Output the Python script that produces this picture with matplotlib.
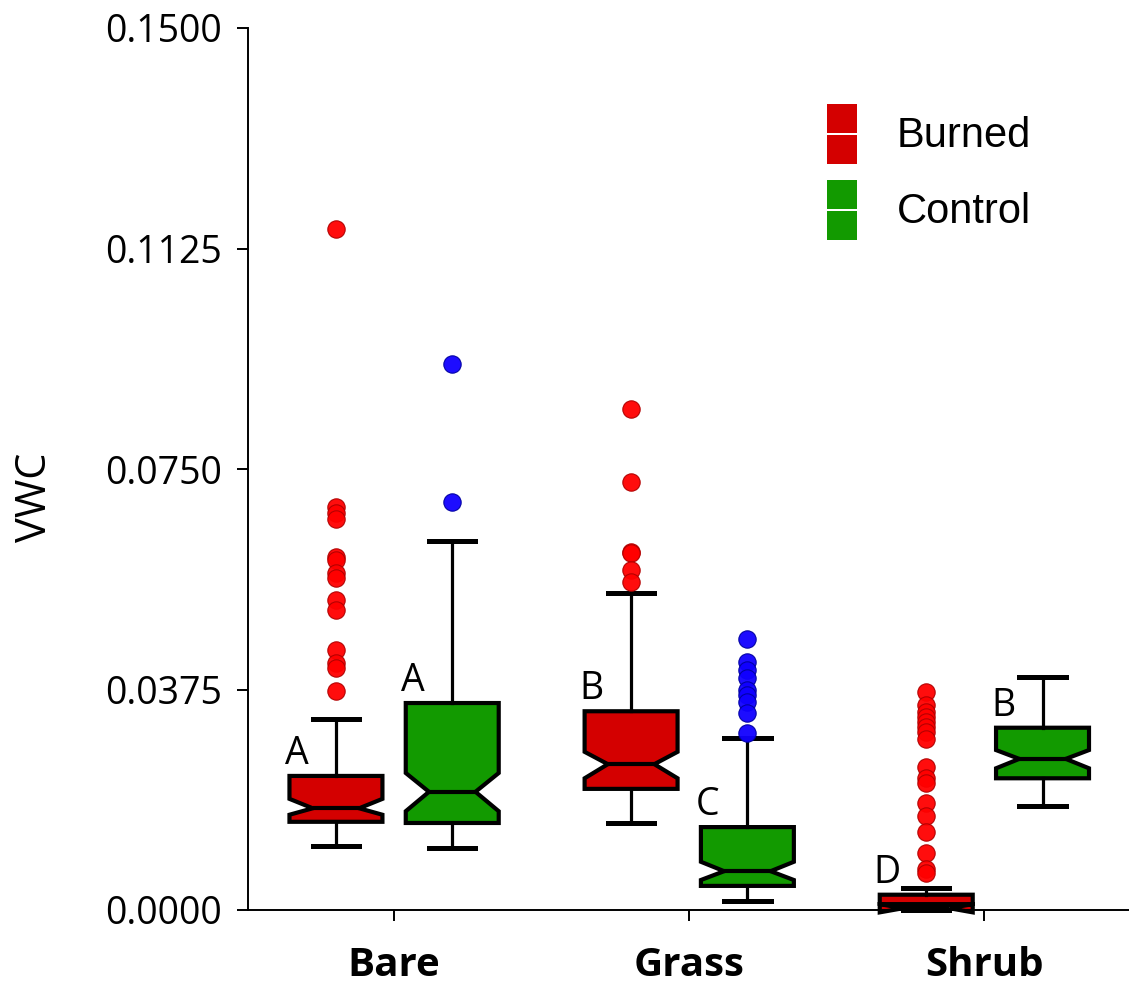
import matplotlib
matplotlib.use("Agg")
import matplotlib.pyplot as plt
from matplotlib.patches import Rectangle, Patch
from matplotlib.legend_handler import HandlerBase

# ---------------- data ----------------
categories = ["Bare", "Grass", "Shrub"]
groups = ["Burned", "Control"]

# per group: lists ordered Bare, Grass, Shrub
burned_whislo = [0.0109, 0.0148, 0.0000]
burned_q1     = [0.0150, 0.0206, 0.0010]
burned_cilo   = [0.0162, 0.0224, -0.0004]
burned_med    = [0.0173, 0.0248, 0.0003]
burned_cihi   = [0.0189, 0.0269, 0.0010]
burned_q3     = [0.0228, 0.0338, 0.0026]
burned_whishi = [0.0325, 0.0539, 0.0037]
burned_fliers = [
    [0.1158, 0.0685, 0.0675, 0.0665, 0.0600, 0.0595, 0.0573, 0.0565,
     0.0527, 0.0510, 0.0442, 0.0420, 0.0412, 0.0373],
    [0.0852, 0.0728, 0.0609, 0.0607, 0.0578, 0.0557],
    [0.0371, 0.0349, 0.0337, 0.0328, 0.0320, 0.0311, 0.0303, 0.0291,
     0.0243, 0.0224, 0.0216, 0.0182, 0.0160, 0.0133, 0.0097, 0.0070, 0.0063],
]

control_whislo = [0.0105, 0.0015, 0.0177]
control_q1     = [0.0148, 0.0041, 0.0224]
control_cilo   = [0.0168, 0.0051, 0.0241]
control_med    = [0.0201, 0.0066, 0.0257]
control_cihi   = [0.0233, 0.0082, 0.0272]
control_q3     = [0.0352, 0.0141, 0.0310]
control_whishi = [0.0628, 0.0292, 0.0396]
control_fliers = [
    [0.0929, 0.0694],
    [0.0461, 0.0422, 0.0408, 0.0395, 0.0374, 0.0366, 0.0354, 0.0335, 0.0301],
    [],
]

burned_letters = ["A", "B", "D"]
control_letters = ["A", "C", "B"]

yticks = [0.0, 0.0375, 0.075, 0.1125, 0.15]

# ---------------- styling ----------------
RED_BOX = "#D40000"
GREEN_BOX = "#129A00"
RED_PT = "#FF0000"
RED_PT_EDGE = "#B00000"
BLUE_PT = "#1000FF"
BLUE_PT_EDGE = "#0000A0"

W, H = 1129, 985
fig = plt.figure(figsize=(W / 100, H / 100), dpi=100)
ax_left, ax_bottom = 248 / W, 1 - 910 / H
ax_w, ax_h = (W - 248) / W, (910 - 28) / H
ax = fig.add_axes([ax_left, ax_bottom, ax_w, ax_h])

OFFSET = 0.197
WIDTH = 0.315


def make_stats(wlo, q1, cilo, med, cihi, q3, whi, fl):
    return [dict(whislo=a, q1=b, cilo=c, med=d, cihi=e, q3=f, whishi=g, fliers=h)
            for a, b, c, d, e, f, g, h in zip(wlo, q1, cilo, med, cihi, q3, whi, fl)]


burned_stats = make_stats(burned_whislo, burned_q1, burned_cilo, burned_med,
                          burned_cihi, burned_q3, burned_whishi, burned_fliers)
control_stats = make_stats(control_whislo, control_q1, control_cilo, control_med,
                           control_cihi, control_q3, control_whishi, control_fliers)

xpos = list(range(len(categories)))


def draw(stats, offset, face, ptface, ptedge):
    pos = [p + offset for p in xpos]
    res = ax.bxp(stats, positions=pos, widths=WIDTH, shownotches=True,
                 patch_artist=True, manage_ticks=False,
                 boxprops=dict(facecolor=face, edgecolor="black", linewidth=3.0),
                 medianprops=dict(color="black", linewidth=3.0),
                 whiskerprops=dict(color="black", linewidth=2.3),
                 capprops=dict(color="black", linewidth=3.6),
                 flierprops=dict(marker="o", markersize=12.5,
                                 markerfacecolor=ptface,
                                 markeredgecolor=ptedge, markeredgewidth=0.8,
                                 alpha=0.95))
    for k in res:
        for art in res[k]:
            art.set_clip_on(False)
    return pos


bpos = draw(burned_stats, -OFFSET, RED_BOX, RED_PT, RED_PT_EDGE)
cpos = draw(control_stats, OFFSET, GREEN_BOX, BLUE_PT, BLUE_PT_EDGE)

TEXT_FONT = ["Open Sans", "DejaVu Sans"]

for pos, st, lab in zip(bpos, burned_stats, burned_letters):
    ax.annotate(lab, xy=(pos - WIDTH / 2, st["q3"]), xytext=(7, 12),
                textcoords="offset pixels", ha="center", va="baseline",
                fontsize=27, family=TEXT_FONT)
for pos, st, lab in zip(cpos, control_stats, control_letters):
    ax.annotate(lab, xy=(pos - WIDTH / 2, st["q3"]), xytext=(7, 12),
                textcoords="offset pixels", ha="center", va="baseline",
                fontsize=27, family=TEXT_FONT)

ax.set_xlim(-0.495, 2.49)
ax.set_ylim(0, 0.15)
ax.set_yticks(yticks)
ax.set_yticklabels([f"{v:.4f}" for v in yticks], family=TEXT_FONT, fontsize=27)
ax.set_xticks(xpos)
ax.set_xticklabels(categories, family=TEXT_FONT, fontsize=29, fontweight="bold")

for s in ["top", "right"]:
    ax.spines[s].set_visible(False)
for s in ["left", "bottom"]:
    ax.spines[s].set_linewidth(1.4)
ax.tick_params(axis="y", direction="out", length=8, width=1.4, pad=11)
ax.tick_params(axis="x", direction="out", length=8, width=1.4, pad=18)

fig.text(35 / W, 1 - 497 / H, "VWC", rotation=90, ha="center", va="center",
         fontsize=30, family=TEXT_FONT)


class TwoBlockHandler(HandlerBase):
    def create_artists(self, legend, orig_handle, xdescent, ydescent, width,
                       height, fontsize, trans):
        fc = orig_handle.get_facecolor()
        gap = 2
        half = (height - gap) / 2
        r1 = Rectangle((-xdescent, -ydescent), width, half, facecolor=fc,
                       edgecolor="none", transform=trans)
        r2 = Rectangle((-xdescent, -ydescent + half + gap), width, half,
                       facecolor=fc, edgecolor="none", transform=trans)
        return [r1, r2]


handles = [Patch(facecolor=RED_BOX), Patch(facecolor=GREEN_BOX)]
leg = fig.legend(handles, groups, loc="upper left",
                 bbox_to_anchor=(827 / W, 1 - 104 / H),
                 frameon=False, borderpad=0, borderaxespad=0,
                 handler_map={Patch: TwoBlockHandler()},
                 handlelength=0.72, handleheight=1.84, handletextpad=0.96,
                 labelspacing=0.38,
                 prop=dict(family=["Liberation Sans", "DejaVu Sans"], size=30))

fig.savefig("out.png", dpi=100)
